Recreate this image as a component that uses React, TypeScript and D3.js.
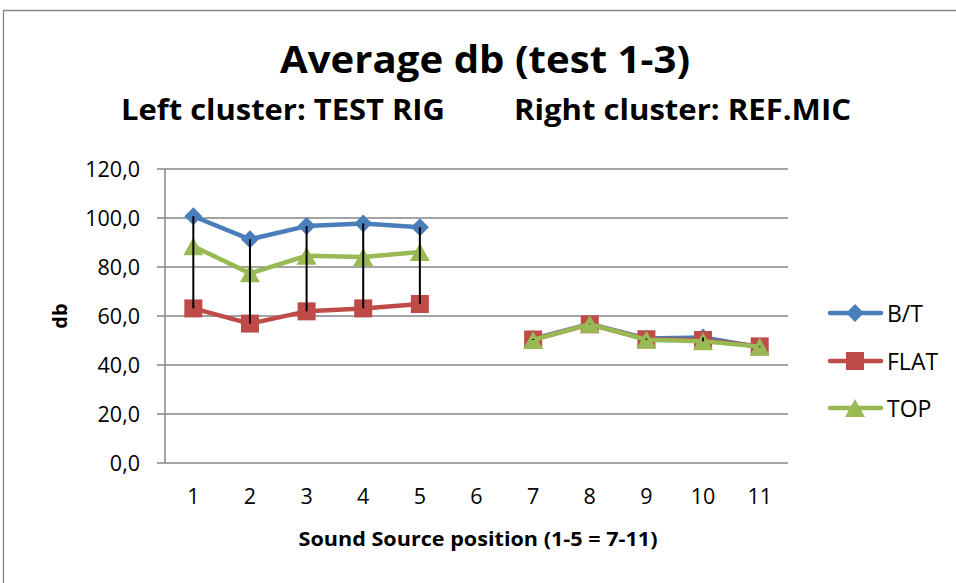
import React from "react";
import * as d3 from "d3";

const categories = ["1", "2", "3", "4", "5", "6", "7", "8", "9", "10", "11"];
const seriesNames = ["B/T", "FLAT", "TOP"];
const btValues: (number | null)[] = [100.7, 91.3, 96.7, 97.8, 96.2, null, 50.6, 56.8, 50.8, 51.2, 47.3];
const flatValues: (number | null)[] = [63.1, 56.9, 61.9, 63.1, 64.9, null, 50.4, 56.6, 50.5, 50.2, 47.6];
const topValues: (number | null)[] = [88.5, 77.4, 84.6, 84.1, 86.1, null, 50.2, 56.7, 50.3, 49.7, 47.5];
const yTicks = [0, 20, 40, 60, 80, 100, 120];
const colors = ["#4A7EBB", "#BE4B48", "#98B954"];
const markers = ["diamond", "square", "triangle"];

const FONT = "'Open Sans', 'Liberation Sans', sans-serif";

function Marker({ type, x, y, color }: { type: string; x: number; y: number; color: string }) {
  if (type === "diamond") {
    const r = 9;
    return <path d={`M${x},${y - r}L${x + r},${y}L${x},${y + r}L${x - r},${y}Z`} fill={color} />;
  }
  if (type === "square") {
    const s = 18;
    return <rect x={x - s / 2} y={y - s / 2} width={s} height={s} fill={color} />;
  }
  const w = 20, h = 18;
  return <path d={`M${x},${y - h / 2}L${x + w / 2},${y + h / 2}L${x - w / 2},${y + h / 2}Z`} fill={color} />;
}

export default function App() {
  const left = 165, right = 788, top = 169, bottom = 463;
  const x = d3.scalePoint<string>().domain(categories).range([left, right]).padding(0.5);
  const y = d3.scaleLinear().domain([0, 120]).range([bottom, top]);
  const allSeries = [btValues, flatValues, topValues];

  const line = d3
    .line<{ c: string; v: number | null }>()
    .defined((d) => d.v !== null)
    .x((d) => x(d.c) as number)
    .y((d) => y(d.v as number));

  const legendY = [313, 361, 408];

  return (
    <svg width={956} height={583} style={{ position: "absolute", left: 0, top: 0 }} fontFamily={FONT}>
      <rect x={0} y={0} width={956} height={583} fill="#fff" />
      <path d="M3.5,583V10.5H956" fill="none" stroke="#868686" strokeWidth={1.3} />
      <text x={485} y={73} textAnchor="middle" fontSize={38} fontWeight="bold" textLength={410} lengthAdjust="spacingAndGlyphs">
        Average db (test 1-3)
      </text>
      <text x={121} y={120} fontSize={28} fontWeight="bold" textLength={324} lengthAdjust="spacingAndGlyphs">
        Left cluster: TEST RIG
      </text>
      <text x={514} y={120} fontSize={28} fontWeight="bold" textLength={337} lengthAdjust="spacingAndGlyphs">
        Right cluster: REF.MIC
      </text>

      {yTicks.map((t) => (
        <g key={t}>
          <line x1={left - 8} x2={right} y1={y(t)} y2={y(t)} stroke="#868686" strokeWidth={1.5} />
          <text x={140} y={y(t) + 8} textAnchor="end" fontSize={21.5} fill="#000">
            {t.toFixed(1).replace(".", ",")}
          </text>
        </g>
      ))}
      <line x1={left} x2={left} y1={top} y2={bottom} stroke="#868686" strokeWidth={1.5} />

      {categories.map((c) => (
        <text key={c} x={x(c)} y={504} textAnchor="middle" fontSize={21.5}>
          {c}
        </text>
      ))}

      <text
        transform={`translate(67,316) rotate(-90)`}
        textAnchor="middle"
        fontSize={20}
        fontWeight="bold"
      >
        db
      </text>
      <text x={478} y={546} textAnchor="middle" fontSize={19} fontWeight="bold" textLength={359} lengthAdjust="spacingAndGlyphs">
        Sound Source position (1-5 = 7-11)
      </text>

      {allSeries.map((vals, i) => {
        const data = categories.map((c, j) => ({ c, v: vals[j] }));
        return (
          <g key={i}>
            <path d={line(data) as string} fill="none" stroke={colors[i]} strokeWidth={4.5} strokeLinejoin="round" strokeLinecap="round" />
            {data.filter((d) => d.v !== null).map((d) => (
              <Marker key={d.c} type={markers[i]} x={x(d.c) as number} y={y(d.v as number)} color={colors[i]} />
            ))}
          </g>
        );
      })}

      {categories.map((c, j) => {
        const vs = allSeries.map((s) => s[j]).filter((v) => v !== null) as number[];
        if (vs.length === 0) return null;
        const hi = d3.max(vs) as number;
        const lo = d3.min(vs) as number;
        return <line key={c} x1={x(c)} x2={x(c)} y1={y(hi)} y2={y(lo)} stroke="#000" strokeWidth={2} />;
      })}

      {seriesNames.map((n, i) => (
        <g key={n}>
          <line x1={830} x2={881} y1={legendY[i]} y2={legendY[i]} stroke={colors[i]} strokeWidth={4.5} strokeLinecap="round" />
          <Marker type={markers[i]} x={855} y={legendY[i]} color={colors[i]} />
          <text x={887} y={legendY[i] + 9} fontSize={23}>
            {n}
          </text>
        </g>
      ))}
    </svg>
  );
}
